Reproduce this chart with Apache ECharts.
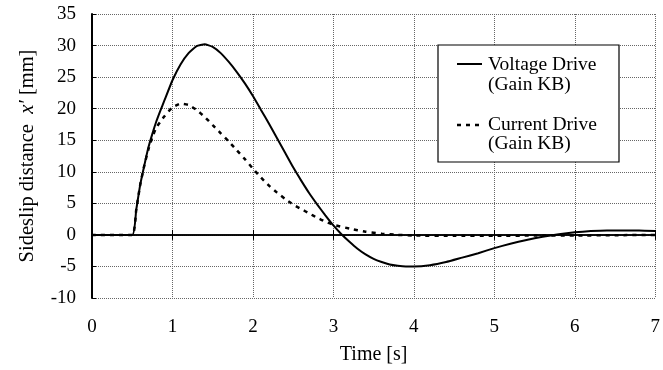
<!DOCTYPE html>
<html>
<head>
<meta charset="utf-8">
<script src="https://cdn.jsdelivr.net/npm/echarts@6/dist/echarts.min.js"></script>
<style>
html,body{margin:0;padding:0;background:#fff;}
#c{width:663px;height:370px;}
</style>
</head>
<body>
<div id="c"></div>
<script>
// ---- data ----
var xTicks = [0, 1, 2, 3, 4, 5, 6, 7];
var yTicks = [-10, -5, 0, 5, 10, 15, 20, 25, 30, 35];

var voltageTime = [0, 0.5, 0.55, 0.6, 0.65, 0.7, 0.75, 0.8, 0.85, 0.9, 1.0, 1.1, 1.2, 1.3, 1.4, 1.5, 1.6, 1.7, 1.8, 1.9, 2.0, 2.1, 2.2, 2.3, 2.4, 2.5, 2.6, 2.7, 2.8, 2.9, 3.0, 3.1, 3.2, 3.3, 3.4, 3.5, 3.6, 3.7, 3.8, 3.9, 4.0, 4.2, 4.4, 4.6, 4.8, 5.0, 5.2, 5.4, 5.6, 5.8, 6.0, 6.2, 6.4, 6.6, 6.8, 7.0];
var voltageDrive = [0, 0, 4, 8, 11, 13.8, 16, 18, 19.7, 21.3, 24.5, 27, 28.8, 29.9, 30.2, 29.8, 28.8, 27.4, 25.8, 24, 22, 19.8, 17.6, 15.3, 13, 10.7, 8.6, 6.6, 4.8, 3.1, 1.5, 0.1, -1.1, -2.2, -3.1, -3.8, -4.3, -4.7, -4.9, -5.0, -5.0, -4.8, -4.3, -3.6, -2.9, -2.1, -1.4, -0.8, -0.3, 0.1, 0.4, 0.6, 0.7, 0.7, 0.7, 0.6];

var currentTime = [0, 0.5, 0.55, 0.6, 0.65, 0.7, 0.75, 0.8, 0.9, 1.0, 1.1, 1.2, 1.3, 1.4, 1.5, 1.6, 1.7, 1.8, 1.9, 2.0, 2.1, 2.2, 2.3, 2.4, 2.5, 2.6, 2.7, 2.8, 2.9, 3.0, 3.2, 3.4, 3.6, 3.8, 4.0, 4.5, 5.0, 5.5, 6.0, 6.5, 7.0];
var currentDrive = [0, 0, 4, 8, 11, 13.5, 15.5, 17, 18.8, 20.2, 20.8, 20.6, 19.8, 18.7, 17.4, 16.1, 14.8, 13.4, 12, 10.5, 9.1, 7.8, 6.7, 5.7, 4.8, 4.1, 3.4, 2.7, 2.1, 1.6, 1.0, 0.5, 0.2, 0, -0.1, -0.15, -0.15, -0.1, -0.1, -0.05, 0];

var seriesNames = ['Voltage Drive\n(Gain KB)', 'Current Drive\n(Gain KB)'];
var xName = 'Time [s]';

function pairs(xs, ys) { return xs.map(function (x, i) { return [x, ys[i]]; }); }

var FONT = '"Liberation Serif", "Times New Roman", serif';
var chart = echarts.init(document.getElementById('c'), null, { renderer: 'canvas' });

var gridLine = { show: true, lineStyle: { color: '#666', width: 1, type: [1, 1] } };

var option = {
  animation: false,
  backgroundColor: '#fff',
  grid: { left: 92, right: 4, top: 14, bottom: 71 },
  xAxis: [
    {
      type: 'value', min: xTicks[0], max: xTicks[xTicks.length - 1], interval: 1,
      position: 'bottom',
      axisLine: { show: false, onZero: false },
      axisTick: { show: false },
      splitLine: gridLine,
      axisLabel: { show: true, margin: 20, color: '#000', fontFamily: FONT, fontSize: 19 },
      name: xName, nameLocation: 'middle', nameGap: 47,
      nameTextStyle: { color: '#000', fontFamily: FONT, fontSize: 20 }
    },
    {
      type: 'value', min: xTicks[0], max: xTicks[xTicks.length - 1], interval: 1,
      axisLine: { show: true, onZero: true, onZeroAxisIndex: 0, lineStyle: { color: '#000', width: 1.5 } },
      axisTick: { show: true, inside: true, length: 5, lineStyle: { color: '#000', width: 1 } },
      axisLabel: { show: false }, splitLine: { show: false }
    },
    {
      type: 'value', min: xTicks[0], max: xTicks[xTicks.length - 1], interval: 1,
      axisLine: { show: true, onZero: true, onZeroAxisIndex: 0, lineStyle: { color: '#000', width: 1.5 } },
      axisTick: { show: true, inside: false, length: 5, lineStyle: { color: '#000', width: 1 } },
      axisLabel: { show: false }, splitLine: { show: false }
    }
  ],
  yAxis: {
    type: 'value', min: yTicks[0], max: yTicks[yTicks.length - 1], interval: 5,
    axisLine: { show: true, onZero: false, lineStyle: { color: '#000', width: 2 } },
    axisTick: { show: true, inside: true, length: 4, lineStyle: { color: '#000', width: 1 } },
    splitLine: gridLine,
    axisLabel: { margin: 16, color: '#000', fontFamily: FONT, fontSize: 19 },
    name: '{a|Sideslip distance  }{i|x′}{a| [mm]}',
    nameLocation: 'middle', nameGap: 54, nameRotate: 90,
    nameTextStyle: {
      color: '#000', fontFamily: FONT, fontSize: 20,
      rich: {
        a: { color: '#000', fontFamily: FONT, fontSize: 20.5 },
        i: { color: '#000', fontFamily: FONT, fontSize: 20.5, fontStyle: 'italic' }
      }
    }
  },
  series: [
    {
      name: seriesNames[0], type: 'line', xAxisIndex: 0, yAxisIndex: 0,
      data: pairs(voltageTime, voltageDrive),
      showSymbol: false, smooth: 0.15, z: 3,
      lineStyle: { color: '#000', width: 2 }
    },
    {
      name: seriesNames[1], type: 'line', xAxisIndex: 0, yAxisIndex: 0,
      data: pairs(currentTime, currentDrive),
      showSymbol: false, smooth: 0.15, z: 3,
      lineStyle: { color: '#000', width: 2.5, type: [4, 5] }
    }
  ],
  graphic: [
    { type: 'rect', z: 10, shape: { x: 438, y: 45, width: 181, height: 117 },
      style: { fill: '#fff', stroke: '#000', lineWidth: 1.2 } },
    { type: 'line', z: 11, shape: { x1: 457, y1: 64, x2: 482, y2: 64 },
      style: { stroke: '#000', lineWidth: 2 } },
    { type: 'line', z: 11, shape: { x1: 457, y1: 125, x2: 482, y2: 125 },
      style: { stroke: '#000', lineWidth: 2.5, lineDash: [4, 5] } },
    { type: 'text', z: 11, x: 488, y: 65,
      style: { text: 'Voltage Drive', fill: '#000', font: '19.5px ' + FONT, verticalAlign: 'middle' } },
    { type: 'text', z: 11, x: 488, y: 85,
      style: { text: '(Gain KB)', fill: '#000', font: '19.5px ' + FONT, verticalAlign: 'middle' } },
    { type: 'text', z: 11, x: 488, y: 125,
      style: { text: 'Current Drive', fill: '#000', font: '19.5px ' + FONT, verticalAlign: 'middle' } },
    { type: 'text', z: 11, x: 488, y: 144,
      style: { text: '(Gain KB)', fill: '#000', font: '19.5px ' + FONT, verticalAlign: 'middle' } }
  ]
};
chart.setOption(option);
</script>
</body>
</html>
